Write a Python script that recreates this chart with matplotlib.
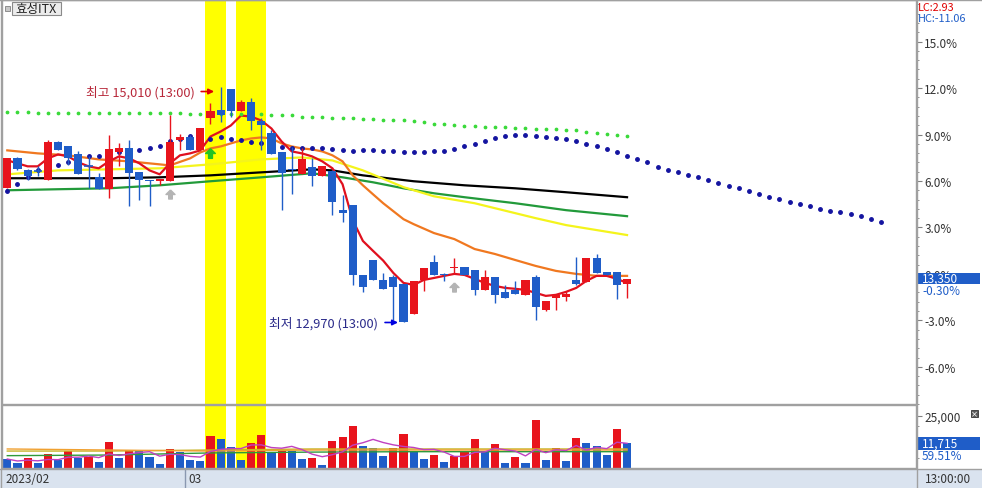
import numpy as np
import pandas as pd
import matplotlib
matplotlib.use("Agg")
import matplotlib.pyplot as plt
from matplotlib.patches import Rectangle
from matplotlib.lines import Line2D
import matplotlib.transforms as mtransforms

plt.rcParams['font.family'] = ['Noto Sans CJK KR', 'DejaVu Sans']

# ---------------- data ----------------
stock_name = "효성ITX"
base_price = 13390
month_labels = ["2023/02", "03"]
month_start_idx = [0, 18]
time_label = "13:00:00"
lc_text = "LC:2.93"
hc_text = "HC:-11.06"
vol_ratio_text = "59.51%"

opens = [14130, 14390, 14290, 14280, 14200, 14530, 14500, 14430, 14320, 14230,
         14120, 14440, 14480, 14270, 14200, 14190, 14190, 14550, 14570, 14460,
         14740, 14810, 14990, 14800, 14880, 14710, 14610, 14440, 14300, 14250,
         14310, 14240, 14280, 13940, 13990, 13380, 13510, 13340, 13360, 13300,
         13040, 13340, 13490, 13390, 13440, 13450, 13420, 13250, 13360, 13230,
         13250, 13210, 13360, 13080, 13180, 13190, 13340, 13320, 13530, 13410,
         13410, 13300]
highs = [14390, 14400, 14300, 14320, 14550, 14540, 14500, 14450, 14410, 14260,
         14590, 14520, 14550, 14270, 14200, 14210, 14760, 14600, 14590, 14650,
         14870, 15010, 14990, 14890, 14910, 14740, 14630, 14440, 14490, 14480,
         14390, 14320, 14290, 14070, 13990, 13380, 13510, 13400, 13380, 13300,
         13330, 13440, 13550, 13400, 13530, 13450, 13420, 13420, 13360, 13290,
         13330, 13340, 13380, 13160, 13210, 13240, 13540, 13530, 13560, 13410,
         13410, 13350]
lows = [14130, 14290, 14200, 14240, 14200, 14460, 14330, 14250, 14130, 14120,
        14050, 14320, 13980, 14030, 13980, 14160, 14190, 14460, 14460, 14460,
        14690, 14700, 14750, 14800, 14630, 14460, 14430, 13940, 14080, 14250,
        14150, 14240, 13900, 13840, 13290, 13230, 13340, 13260, 12990, 12970,
        13040, 13240, 13380, 13330, 13400, 13380, 13210, 13250, 13140, 13180,
        13220, 13210, 12990, 13070, 13080, 13160, 13290, 13320, 13400, 13380,
        13170, 13180]
closes = [14390, 14300, 14240, 14280, 14530, 14460, 14390, 14250, 14320, 14120,
          14470, 14480, 14260, 14200, 14190, 14210, 14530, 14570, 14460, 14650,
          14800, 14760, 14800, 14880, 14710, 14680, 14430, 14260, 14290, 14380,
          14240, 14320, 14010, 13920, 13380, 13280, 13340, 13260, 13280, 12970,
          13330, 13440, 13380, 13380, 13450, 13380, 13250, 13360, 13210, 13180,
          13220, 13340, 13100, 13160, 13210, 13220, 13300, 13530, 13400, 13380,
          13290, 13350]
volumes = [4300, 2400, 4600, 2400, 6700, 3800, 8300, 4600, 5100, 3000,
           12600, 4600, 8600, 8100, 5100, 1900, 9100, 7800, 3800, 3500,
           15400, 13900, 9900, 3800, 11900, 15800, 7500, 8300, 8200, 4300,
           4800, 1400, 13100, 15000, 20200, 10700, 9400, 5600, 9400, 16300,
           8300, 4300, 6200, 3000, 5900, 8300, 13900, 7500, 11500, 2400,
           5100, 2400, 22900, 3800, 9400, 3300, 14300, 11900, 10400, 6400,
           18600, 11715]

# price moving-average lines
ma_red = [14372, 14346, 14320, 14320, 14389, 14423, 14406, 14354, 14320, 14303,
          14363, 14406, 14389, 14346, 14285, 14251, 14346, 14415, 14432, 14458,
          14578, 14621, 14673, 14759, 14750, 14716, 14647, 14535, 14449, 14432,
          14406, 14363, 14303, 14165, 13855, 13675, 13589, 13505, 13398, 13312,
          13295, 13338, 13355, 13373, 13390, 13381, 13347, 13312, 13286, 13269,
          13261, 13252, 13226, 13200, 13209, 13235, 13269, 13330, 13373, 13373,
          13347, 13312]
ma_orange_idx = [0, 3, 6, 9, 12, 15, 16, 18, 19, 20, 21, 22, 23, 24, 25, 26, 27, 28, 29, 30,
                 31, 32, 33, 34, 35, 36, 37, 38, 39, 40, 42, 44, 46, 48, 50, 52, 54, 56, 58, 61]
ma_orange = [14458, 14432, 14415, 14380, 14363, 14337, 14328, 14389, 14440, 14475,
             14492, 14518, 14544, 14561, 14570, 14561, 14518, 14492, 14475, 14466,
             14449, 14415, 14363, 14242, 14156, 14078, 14001, 13932, 13863, 13820,
             13743, 13691, 13605, 13562, 13510, 13459, 13416, 13390, 13373, 13373]
ma_yellow_idx = [0, 5, 10, 15, 20, 25, 29, 32, 35, 39, 42, 46, 52, 55, 58, 61]
ma_yellow = [14251, 14285, 14294, 14303, 14337, 14380, 14397, 14371, 14285, 14140,
             14061, 14001, 13872, 13812, 13769, 13726]
ma_green_idx = [0, 5, 10, 15, 20, 25, 30, 33, 36, 39, 42, 45, 50, 55, 61]
ma_green = [14113, 14122, 14130, 14156, 14191, 14225, 14260, 14225, 14182, 14130,
            14087, 14053, 14001, 13941, 13889]
ma_black_idx = [0, 5, 10, 15, 20, 25, 30, 32, 35, 40, 45, 50, 55, 61]
ma_black = [14217, 14217, 14217, 14225, 14242, 14268, 14294, 14285, 14242, 14191,
            14156, 14130, 14096, 14053]

# navy dotted indicator (extends past last candle)
navy_dots = [14110, 14170, 14230, 14290, 14310, 14330, 14360, 14390, 14410, 14410,
             14420, 14440, 14450, 14460, 14480, 14500, 14540, 14560, 14580, 14590,
             14560, 14570, 14560, 14550, 14530, 14520, 14500, 14490, 14480, 14480,
             14475, 14475, 14466, 14458, 14449, 14458, 14458, 14449, 14449, 14441,
             14441, 14441, 14449, 14449, 14466, 14492, 14510, 14535, 14561, 14578,
             14587, 14587, 14578, 14570, 14561, 14552, 14535, 14510, 14492, 14466,
             14441, 14406, 14380, 14354, 14311, 14285, 14268, 14242, 14225, 14199,
             14173, 14147, 14130, 14104, 14078, 14052, 14035, 14009, 13992, 13975,
             13949, 13932, 13924, 13906, 13889, 13863, 13837]
# light-green dotted indicator
green_dots = [14790, 14790, 14790, 14780, 14780, 14780, 14780, 14780, 14780, 14780,
              14780, 14780, 14780, 14780, 14780, 14780, 14780, 14780, 14770, 14770,
              14770, 14770, 14770, 14770, 14770, 14770, 14760, 14760, 14760, 14750,
              14750, 14750, 14740, 14740, 14740, 14730, 14730, 14720, 14720, 14720,
              14710, 14700, 14690, 14690, 14680, 14670, 14670, 14660, 14660, 14660,
              14650, 14650, 14640, 14640, 14640, 14630, 14630, 14620, 14610, 14600,
              14590, 14580]

# volume moving averages (read)
vma_idx = [0, 10, 20, 30, 40, 50, 61]
vma_orange = [9100, 8600, 8100, 8600, 8600, 8600, 8600]
vma_olive = [8100, 8100, 8600, 9100, 9100, 9100, 9100]
vma_green = [5900, 6200, 7200, 7600, 7800, 7800, 7800]

highlight_ranges = [(20, 21), (23, 25)]
green_signal_idx = [20]
green_signal_price = [14432]
gray_signal_idx = [16, 44]
gray_signal_price = [14079, 13278]

pct_major = [-6, -3, 0, 3, 6, 9, 12, 15]

# ---------------- style ----------------
RED = '#e8141c'
BLUE = '#1f5dc8'
NAVY = '#1414a0'
GRID = '#a0a0a0'

W, H = 982, 489
fig = plt.figure(figsize=(W / 100, H / 100), dpi=100)
fig.patch.set_facecolor('white')


def fx(px):
    return px / W


def fy(py):
    return 1 - py / H


ax = fig.add_axes([fx(2), fy(405), fx(916) - fx(2), fy(1) - fy(405)])
vax = fig.add_axes([fx(2), fy(469), fx(916) - fx(2), fy(406) - fy(469)])

n = len(closes)
xs = np.arange(n)
XL = (-0.52, 89.44)

for a in (ax, vax):
    a.set_xlim(*XL)
    a.set_xticks([])
    a.set_facecolor('white')
    for s in a.spines.values():
        s.set_color(GRID)
        s.set_linewidth(1)
    for lo_, hi_ in highlight_ranges:
        a.axvspan(lo_ - 0.5, hi_ + 0.5, color='#ffff00', lw=0, zorder=0)

ax.set_ylim(12279, 15758)
vax.set_ylim(0, 30114)

# MA lines
ax.plot(ma_black_idx, ma_black, color='black', lw=1.6, zorder=1.5)
ax.plot(ma_green_idx, ma_green, color='#229a3a', lw=1.6, zorder=1.5)
ax.plot(ma_yellow_idx, ma_yellow, color='#f4f41c', lw=1.6, zorder=1.6)
ax.plot(ma_orange_idx, ma_orange, color='#f07820', lw=1.6, zorder=1.7)
ax.plot(xs, ma_red, color='#e0101e', lw=1.6, zorder=1.8)

ax.plot(np.arange(len(navy_dots)), navy_dots, ls='none', marker='o', ms=2.5,
        color=NAVY, zorder=2)
ax.plot(np.arange(len(green_dots)), green_dots, ls='none', marker='o', ms=1.7,
        color='#3ada3a', zorder=2)

# candles
for i in range(n):
    o, h, l, c = opens[i], highs[i], lows[i], closes[i]
    col = RED if c > o else BLUE
    ax.vlines(i, l, h, color=col, lw=1.0, zorder=3)
    if c == o:
        ax.hlines(o, i - 0.4, i + 0.4, color=col, lw=1.2, zorder=4)
    else:
        ax.bar(i, max(abs(c - o), 9), bottom=min(o, c), width=0.8, color=col,
               lw=0, zorder=4)

# signal arrows
arrow_marker = [(0, 1), (-1, 0), (-0.4, 0), (-0.4, -1), (0.4, -1), (0.4, 0), (1, 0), (0, 1)]
ax.plot(green_signal_idx, green_signal_price, ls='none', marker=arrow_marker, ms=7,
        color='#22c322', mec='#22c322', zorder=5)
ax.plot(gray_signal_idx, gray_signal_price, ls='none', marker=arrow_marker, ms=6.5,
        color='#b4b4b4', mec='#b4b4b4', zorder=5)

# high / low annotations
hi_i = int(np.argmax(highs))
lo_i = int(np.argmin(lows))
off_hi = mtransforms.offset_copy(ax.transData, fig=fig, x=0, y=-5, units='dots')
ax.annotate('', xy=(hi_i, highs[hi_i]),
            xycoords=mtransforms.offset_copy(ax.transData, fig=fig, x=-6.5, y=-5, units='dots'),
            xytext=(-13, 0), textcoords='offset pixels',
            arrowprops=dict(arrowstyle='-|>', color='#e00000', lw=1.2, mutation_scale=8,
                            shrinkA=0, shrinkB=0), zorder=6)
ax.annotate(f"최고 {highs[hi_i]:,} (13:00)", xy=(hi_i, highs[hi_i]), xycoords=off_hi,
            xytext=(-25.5, 0), textcoords='offset pixels', ha='right', va='center',
            fontsize=9.2, color='#b8283a', zorder=6)
ax.annotate('', xy=(lo_i, lows[lo_i]),
            xycoords=mtransforms.offset_copy(ax.transData, fig=fig, x=-5.5, y=0, units='dots'),
            xytext=(-13, 0), textcoords='offset pixels',
            arrowprops=dict(arrowstyle='-|>', color='#0000e0', lw=1.2, mutation_scale=8,
                            shrinkA=0, shrinkB=0), zorder=6)
ax.annotate(f"최저 {lows[lo_i]:,} (13:00)", xy=(lo_i, lows[lo_i]), xycoords=ax.transData,
            xytext=(-25.5, 0), textcoords='offset pixels', ha='right', va='center',
            fontsize=9.2, color='#2a2a8a', zorder=6)

# right axis (percent)
ax.yaxis.tick_right()
ax.set_yticks([base_price * (1 + p / 100) for p in pct_major])
ax.set_yticklabels([f"{p:.1f}%" for p in pct_major])
minor_p = [round(-8.4 + 0.6 * k, 1) for k in range(44)]
minor_p = [p for p in minor_p if abs(p / 3 - round(p / 3)) > 1e-6 and p < 17.5]
ax.set_yticks([base_price * (1 + p / 100) for p in minor_p], minor=True)
ax.tick_params(axis='y', which='major', length=4, color='#808080', labelsize=8.5,
               labelcolor='#333333', pad=2)
ax.tick_params(axis='y', which='minor', length=2, color='#808080')

# volume
vcols = [BLUE] + [RED if volumes[i] > volumes[i - 1] else BLUE for i in range(1, n)]
vax.bar(xs, volumes, width=0.8, color=vcols, lw=0, zorder=2)
vma5 = pd.Series(volumes).rolling(5, min_periods=1).mean()
vax.plot(vma_idx, vma_green, color='#2e9a3a', lw=1.0, zorder=3)
vax.plot(vma_idx, vma_olive, color='#c8b428', lw=1.0, zorder=3)
vax.plot(vma_idx, vma_orange, color='#f0a030', lw=1.0, zorder=3)
vax.plot(xs, vma5, color='#c040c0', lw=1.0, zorder=3)
vax.yaxis.tick_right()
vax.set_yticks([25000])
vax.set_yticklabels(['25,000'])
vax.set_yticks([5000, 10000, 15000, 20000], minor=True)
vax.tick_params(axis='y', which='major', length=4, color='#808080', labelsize=8.5,
                labelcolor='#333333', pad=2)
vax.tick_params(axis='y', which='minor', length=2, color='#808080')

# current price box
tb = mtransforms.blended_transform_factory(fig.transFigure, ax.transData)
ax.add_patch(Rectangle((fx(918), closes[-1] - 50), fx(980) - fx(918), 100, transform=tb,
                       facecolor=BLUE, edgecolor='none', clip_on=False, zorder=10))
ax.text(fx(922), closes[-1], f"{closes[-1]:,}", transform=tb, color='white', fontsize=8.5,
        va='center', ha='left', clip_on=False, zorder=11)
chg = (closes[-1] / base_price - 1) * 100
ax.annotate(f"{chg:.2f}%", xy=(fx(922), closes[-1]), xycoords=tb, xytext=(0, -12),
            textcoords='offset pixels', color=BLUE, fontsize=8.5, va='center', ha='left',
            annotation_clip=False, zorder=11)

tv = mtransforms.blended_transform_factory(fig.transFigure, vax.transData)
vax.add_patch(Rectangle((fx(918), volumes[-1] - 2900), fx(980) - fx(918), 5800, transform=tv,
                        facecolor=BLUE, edgecolor='none', clip_on=False, zorder=10))
vax.text(fx(922), volumes[-1], f"{volumes[-1]:,}", transform=tv, color='white', fontsize=8.5,
         va='center', ha='left', clip_on=False, zorder=11)
vax.annotate(vol_ratio_text, xy=(fx(922), volumes[-1]), xycoords=tv, xytext=(0, -12),
             textcoords='offset pixels', color=BLUE, fontsize=8.5, va='center', ha='left',
             annotation_clip=False, zorder=11)

# LC / HC
fig.text(fx(918), fy(8), lc_text, color='#e00000', fontsize=7.8, va='center', ha='left')
fig.text(fx(918), fy(19.5), hc_text, color=BLUE, fontsize=7.8, va='center', ha='left')

# close "x" button
fig.add_artist(Rectangle((fx(971), fy(418)), fx(7), 7 / H, transform=fig.transFigure,
                         facecolor='#5a5a5a', edgecolor='#333333', lw=0.6, zorder=6))
fig.text(fx(974.5), fy(414.5), '×', color='white', fontsize=6, ha='center', va='center',
         zorder=7, family='DejaVu Sans')

# date bar
fig.add_artist(Rectangle((0, 0), 1, fy(470), transform=fig.transFigure,
                         facecolor='#dae3ef', edgecolor='none', zorder=-1))
fig.add_artist(Line2D([0, 1], [fy(470)] * 2, transform=fig.transFigure, color=GRID, lw=1))
fig.add_artist(Line2D([0, 1], [fy(0.5)] * 2, transform=fig.transFigure, color=GRID, lw=1))
fig.add_artist(Line2D([fx(916.5)] * 2, [0, 1], transform=fig.transFigure, color=GRID, lw=1))
fig.add_artist(Line2D([fx(0.8)] * 2, [0, 1], transform=fig.transFigure, color=GRID, lw=1))
bt = mtransforms.blended_transform_factory(vax.transData, fig.transFigure)
for k, (lab, si) in enumerate(zip(month_labels, month_start_idx)):
    if k > 0:
        vax.add_line(Line2D([si - 0.5] * 2, [0, fy(471)], transform=bt, color='#8a98b0',
                            lw=1, clip_on=False))
    vax.annotate(lab, xy=(si - 0.5, fy(480)), xycoords=bt, xytext=(3, 0),
                 textcoords='offset pixels', fontsize=8.5, color='#333333', va='center',
                 ha='left', annotation_clip=False)
fig.text(fx(925), fy(480), time_label, fontsize=8.5, color='#333333', va='center', ha='left')

# stock name tag
fig.add_artist(Rectangle((fx(5), fy(12)), fx(5), 5 / H, transform=fig.transFigure,
                         facecolor='#c8c8c8', edgecolor='#808080', lw=0.6, zorder=6))
fig.add_artist(Rectangle((fx(12), fy(16)), fx(49), 13 / H, transform=fig.transFigure,
                         facecolor='#ececec', edgecolor='#8a8a8a', lw=0.8, zorder=6))
fig.text(fx(15), fy(9.5), stock_name, fontsize=9, color='#222222', va='center', ha='left',
         zorder=7)

fig.savefig('out.png', dpi=100)
